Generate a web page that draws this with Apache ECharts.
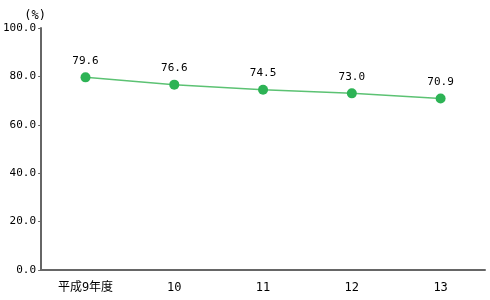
<!DOCTYPE html>
<html><head><meta charset="utf-8">
<script src="https://cdn.jsdelivr.net/npm/echarts@6/dist/echarts.min.js"></script>
<style>html,body{margin:0;padding:0;background:#fff}#c{width:490px;height:300px}</style>
</head><body><div id="c"></div>
<script>
const categories = ['平成9年度', '10', '11', '12', '13'];
const values = [79.6, 76.6, 74.5, 73.0, 70.9];
const yTicks = [0, 20, 40, 60, 80, 100];

const font = '"DejaVu Sans Mono", "Noto Sans CJK JP", monospace';
const chart = echarts.init(document.getElementById('c'));
chart.setOption({
  animation: false,
  grid: { left: 36, right: 5, top: 28, bottom: 30 },
  xAxis: {
    type: 'category', data: categories, boundaryGap: true,
    axisLine: { lineStyle: { color: '#666', width: 2 } },
    axisTick: { inside: true, length: 3, lineStyle: { color: '#666' } },
    axisLabel: { color: '#000', fontSize: 12, fontFamily: font, margin: 12 }
  },
  yAxis: {
    type: 'value', min: 0, max: 100, interval: 20,
    name: '(%)', nameGap: 6, nameTextStyle: { color: '#000', fontSize: 12, fontFamily: font, padding: [0, 12, 0, 0] },
    axisLine: { show: true, lineStyle: { color: '#666', width: 2 } },
    axisTick: { show: true, length: 3, lineStyle: { color: '#666' } },
    splitLine: { show: false },
    axisLabel: { color: '#000', fontSize: 11, fontFamily: font, margin: 5,
      formatter: v => yTicks.includes(v) ? v.toFixed(1) : '' }
  },
  series: [{
    type: 'line', data: values,
    lineStyle: { color: '#5cc273', width: 1.5 },
    itemStyle: { color: '#2db355' },
    symbol: 'circle', symbolSize: 10,
    label: { show: true, position: 'top', distance: 6, color: '#000', fontSize: 11, fontFamily: font,
      formatter: p => p.value.toFixed(1) }
  }]
});
</script></body></html>
